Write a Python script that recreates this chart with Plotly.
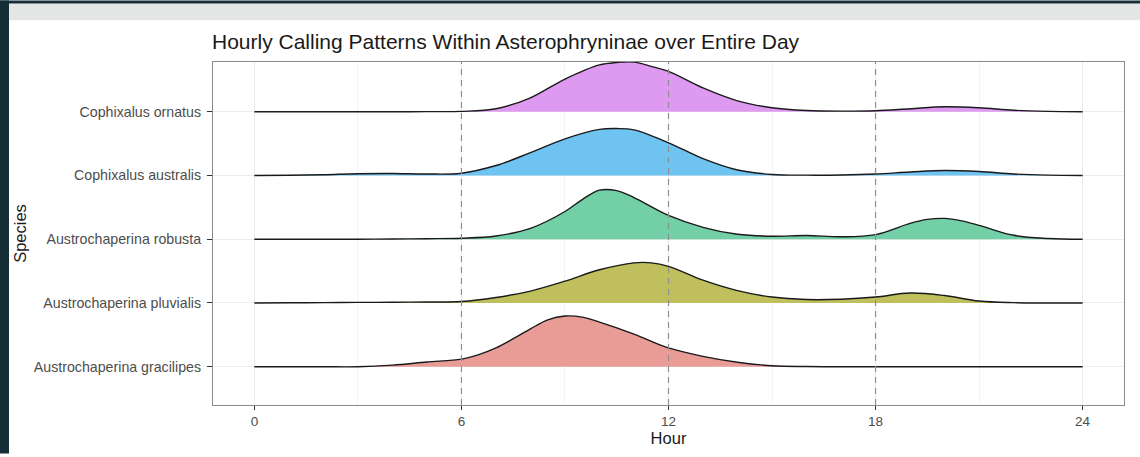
import plotly.graph_objects as go

# ---------------- data ----------------
species = [
    "Austrochaperina gracilipes",
    "Austrochaperina pluvialis",
    "Austrochaperina robusta",
    "Cophixalus australis",
    "Cophixalus ornatus",
]
x_ticks = [0, 6, 12, 18, 24]
x_tick_labels = ["0", "6", "12", "18", "24"]
marker_hours = [6, 12, 18]

# ridge heights (in units of ridge spacing) at given hours
hours_gracilipes = [0, 1, 2, 3, 4, 5, 6, 6.5, 7, 7.5, 8, 8.5, 9, 9.5, 10, 11, 12, 13, 14, 15, 16, 17, 18, 19, 20, 21, 22, 23, 24]
height_gracilipes = [0, 0, 0, 0, 0.026, 0.075, 0.120, 0.190, 0.295, 0.440, 0.595, 0.735, 0.795, 0.778, 0.700, 0.513, 0.295, 0.163, 0.070, 0.016, 0.003, 0, 0, 0, 0, 0, 0, 0, 0]

hours_pluvialis = [0, 1, 2, 3, 4, 5, 6, 7, 8, 9, 10, 11, 11.5, 12, 13, 14, 15, 16, 17, 18, 19, 20, 21, 22, 23, 24]
height_pluvialis = [0, 0.003, 0.006, 0.009, 0.012, 0.016, 0.023, 0.086, 0.187, 0.342, 0.521, 0.630, 0.630, 0.575, 0.358, 0.194, 0.093, 0.054, 0.059, 0.093, 0.156, 0.117, 0.031, 0.005, 0, 0]

hours_robusta = [0, 1, 2, 3, 4, 5, 6, 7, 8, 9, 9.5, 10, 10.5, 11, 12, 13, 14, 15, 16, 17, 18, 19, 19.5, 20, 20.5, 21, 22, 23, 24]
height_robusta = [0, 0, 0, 0, 0.003, 0.008, 0.016, 0.051, 0.171, 0.435, 0.622, 0.770, 0.762, 0.653, 0.373, 0.187, 0.078, 0.047, 0.059, 0.039, 0.073, 0.249, 0.311, 0.327, 0.288, 0.218, 0.062, 0.012, 0]

hours_australis = [0, 1, 2, 3, 4, 5, 6, 7, 8, 9, 10, 10.5, 11, 12, 13, 14, 15, 16, 17, 18, 19, 20, 21, 22, 23, 24]
height_australis = [0, 0.003, 0.012, 0.028, 0.031, 0.023, 0.036, 0.156, 0.358, 0.575, 0.723, 0.736, 0.715, 0.513, 0.264, 0.086, 0.016, 0.005, 0.008, 0.023, 0.054, 0.078, 0.062, 0.023, 0.005, 0]

hours_ornatus = [0, 1, 2, 3, 4, 5, 6, 7, 8, 9, 10, 10.5, 11, 11.5, 12, 13, 14, 15, 16, 17, 18, 19, 20, 21, 22, 23, 24]
height_ornatus = [0, 0, 0, 0, 0, 0.002, 0.006, 0.047, 0.218, 0.513, 0.735, 0.772, 0.778, 0.712, 0.632, 0.373, 0.171, 0.062, 0.019, 0.009, 0.016, 0.047, 0.078, 0.062, 0.023, 0.006, 0]

fill_colors = ["#e99c96", "#bfbf5e", "#73cfa6", "#6ec3f1", "#de9af0"]

ridge_hours = [hours_gracilipes, hours_pluvialis, hours_robusta, hours_australis, hours_ornatus]
ridge_heights = [height_gracilipes, height_pluvialis, height_robusta, height_australis, height_ornatus]

# ---------------- figure ----------------
W, H = 1140, 457
L, R, T, B = 213, 16, 62, 49
pw, ph = W - L - R, H - T - B

fig = go.Figure()

# draw from the top ridge (back) to the bottom ridge (front)
for i in reversed(range(len(species))):
    base = i + 1
    xs = ridge_hours[i]
    ys = [base + h for h in ridge_heights[i]]
    fig.add_trace(go.Scatter(
        x=xs, y=[base] * len(xs), mode="lines",
        line=dict(width=0, color="rgba(0,0,0,0)"),
        hoverinfo="skip", showlegend=False,
    ))
    fig.add_trace(go.Scatter(
        x=xs, y=ys, mode="lines", name=species[i],
        line=dict(color="#1a1a1a", width=1.4, shape="spline", smoothing=1.0),
        fill="tonexty", fillcolor=fill_colors[i],
        showlegend=False,
    ))

shapes = []
for h in marker_hours:
    shapes.append(dict(
        type="line", xref="x", yref="paper", x0=h, x1=h, y0=0, y1=1,
        line=dict(color="#8f8f8f", width=1.2, dash="6px,5px"), layer="above",
    ))


def px_x(p):
    return (p - L) / pw


def px_y(p):
    return (H - B - p) / ph


# screenshot frame: dark strips and light top bar
shapes.append(dict(type="rect", xref="paper", yref="paper",
                   x0=px_x(0), x1=px_x(W), y0=px_y(20), y1=px_y(3),
                   fillcolor="#e4e6e6", line=dict(width=0), layer="below"))
shapes.append(dict(type="rect", xref="paper", yref="paper",
                   x0=px_x(0), x1=px_x(W), y0=px_y(3), y1=px_y(0),
                   fillcolor="#142d36", line=dict(width=0), layer="below"))
shapes.append(dict(type="rect", xref="paper", yref="paper",
                   x0=px_x(0), x1=px_x(9), y0=px_y(H), y1=px_y(0),
                   fillcolor="#142d36", line=dict(width=0), layer="below"))

fig.update_layout(
    width=W, height=H,
    margin=dict(l=L, r=R, t=T, b=B, pad=0),
    paper_bgcolor="white", plot_bgcolor="white",
    font=dict(family="Liberation Sans, Arial, sans-serif", color="#4d4d4d"),
    title=dict(
        text="Hourly Calling Patterns Within Asterophryninae over Entire Day",
        x=212 / W, xref="container", xanchor="left",
        y=1 - 42 / H, yref="container", yanchor="middle",
        font=dict(size=21, color="#1a1a1a"),
    ),
    shapes=shapes,
    showlegend=False,
)

fig.update_xaxes(
    range=[-1.2, 25.2], tickvals=x_ticks, ticktext=x_tick_labels,
    showgrid=True, gridcolor="#ebebeb", gridwidth=1,
    minor=dict(tickvals=[3, 9, 15, 21], showgrid=True, gridcolor="#f3f3f3", gridwidth=1, ticks=""),
    zeroline=False,
    ticks="outside", ticklen=4, tickcolor="#333333", tickwidth=1,
    tickfont=dict(size=13.5, color="#4d4d4d"),
    showline=True, linecolor="#8a8a8a", linewidth=1.2, mirror=True,
    title=dict(text="Hour", font=dict(size=16.5, color="#1a1a1a"), standoff=4),
)
fig.update_yaxes(
    range=[0.4, 5.78], tickvals=[1, 2, 3, 4, 5], ticktext=species,
    showgrid=True, gridcolor="#ebebeb", gridwidth=1, zeroline=False,
    ticks="outside", ticklen=5, tickcolor="#333333", tickwidth=1,
    ticklabelstandoff=3,
    tickfont=dict(size=14.2, color="#4d4d4d"),
    showline=True, linecolor="#8a8a8a", linewidth=1.2, mirror=True,
    title=dict(text="Species", font=dict(size=16.5, color="#1a1a1a"), standoff=3),
)

fig.write_html(
    "out.html",
    config={"displayModeBar": False},
    post_script="document.body.style.margin='0';document.body.style.overflow='hidden';",
)
